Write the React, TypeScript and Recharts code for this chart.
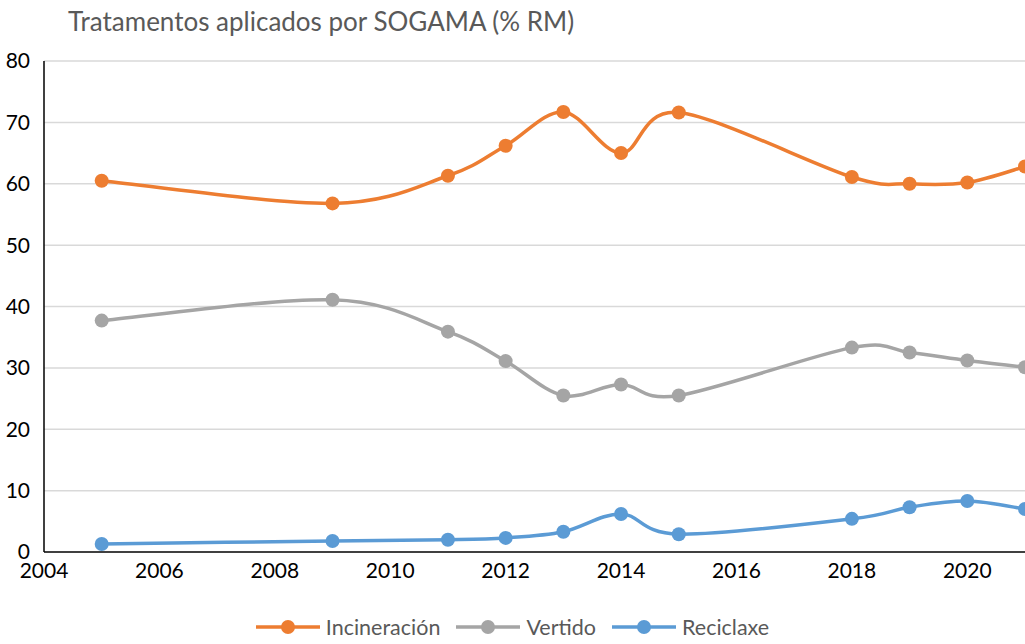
import React from 'react';
import { LineChart, Line, XAxis, YAxis, CartesianGrid, Legend } from 'recharts';

const years = [2005, 2009, 2011, 2012, 2013, 2014, 2015, 2018, 2019, 2020, 2021];
const incineracion = [60.5, 56.8, 61.3, 66.2, 71.7, 65.0, 71.6, 61.1, 60.0, 60.2, 62.8];
const vertido = [37.7, 41.1, 35.9, 31.1, 25.5, 27.3, 25.5, 33.3, 32.5, 31.2, 30.1];
const reciclaxe = [1.3, 1.8, 2.0, 2.3, 3.3, 6.2, 2.9, 5.4, 7.3, 8.3, 7.0];
const xTicks = [2004, 2006, 2008, 2010, 2012, 2014, 2016, 2018, 2020];
const yTicks = [0, 10, 20, 30, 40, 50, 60, 70, 80];

const series = [
  { key: 'incineracion', name: 'Incineración', color: '#ED7D31' },
  { key: 'vertido', name: 'Vertido', color: '#A5A5A5' },
  { key: 'reciclaxe', name: 'Reciclaxe', color: '#5B9BD5' },
];

const data = years.map((year, i) => ({
  year,
  incineracion: incineracion[i],
  vertido: vertido[i],
  reciclaxe: reciclaxe[i],
}));

const FONT = 'Lato, "Open Sans", sans-serif';

// Excel style smoothing (Catmull-Rom as bezier segments)
const excelCurve = (context: any) => {
  let pts: number[][] = [];
  return {
    areaStart() {},
    areaEnd() {},
    lineStart() {
      pts = [];
    },
    point(x: number, y: number) {
      pts.push([+x, +y]);
    },
    lineEnd() {
      if (!pts.length) return;
      context.moveTo(pts[0][0], pts[0][1]);
      for (let i = 0; i < pts.length - 1; i++) {
        const p0 = pts[i - 1] || pts[i];
        const p1 = pts[i];
        const p2 = pts[i + 1];
        const p3 = pts[i + 2] || p2;
        context.bezierCurveTo(
          p1[0] + (p2[0] - p0[0]) / 6,
          p1[1] + (p2[1] - p0[1]) / 6,
          p2[0] - (p3[0] - p1[0]) / 6,
          p2[1] - (p3[1] - p1[1]) / 6,
          p2[0],
          p2[1]
        );
      }
    },
  };
};

const renderLegend = () => (
  <div style={{ display: 'flex', justifyContent: 'center', gap: 16, fontFamily: FONT, fontSize: 21.5, color: '#595959' }}>
    {series.map((s) => (
      <div key={s.key} style={{ display: 'flex', alignItems: 'center', gap: 6 }}>
        <svg width={64} height={16}>
          <line x1={0} y1={8} x2={64} y2={8} stroke={s.color} strokeWidth={3.5} />
          <circle cx={32} cy={8} r={7} fill={s.color} />
        </svg>
        <span>{s.name}</span>
      </div>
    ))}
  </div>
);

export default function App() {
  return (
    <div style={{ position: 'absolute', left: 0, top: 0, width: 1025, height: 644, overflow: 'hidden', background: '#fff' }}>
      <div
        style={{
          position: 'absolute',
          left: 68,
          top: 5,
          fontFamily: FONT,
          fontSize: 26,
          color: '#595959',
          whiteSpace: 'nowrap',
        }}
      >
        Tratamentos aplicados por SOGAMA (% RM)
      </div>
      <LineChart width={1025} height={644} data={data} margin={{ top: 61, right: 0, left: 0, bottom: 26 }}>
        <CartesianGrid vertical={false} stroke="#D9D9D9" strokeWidth={1.5} />
        <XAxis
          dataKey="year"
          type="number"
          domain={[2004, 2021]}
          ticks={xTicks}
          allowDataOverflow
          tickLine={false}
          axisLine={{ stroke: '#404040', strokeWidth: 2 }}
          tick={{ fontSize: 21, fill: '#000', fontFamily: FONT }}
          tickMargin={5}
          height={40}
        />
        <YAxis
          domain={[0, 80]}
          ticks={yTicks}
          width={44}
          tickLine={false}
          axisLine={{ stroke: '#000', strokeWidth: 1.5 }}
          tick={{ fontSize: 21, fill: '#000', fontFamily: FONT }}
          tickMargin={8}
        />
        <Legend verticalAlign="bottom" content={renderLegend} wrapperStyle={{ bottom: 4 }} />
        {series.map((s) => (
          <Line
            key={s.key}
            dataKey={s.key}
            name={s.name}
            type={excelCurve as any}
            stroke={s.color}
            strokeWidth={3.5}
            dot={{ r: 7, fill: s.color, stroke: s.color, strokeWidth: 0 }}
            activeDot={false}
            isAnimationActive={false}
          />
        ))}
      </LineChart>
    </div>
  );
}
